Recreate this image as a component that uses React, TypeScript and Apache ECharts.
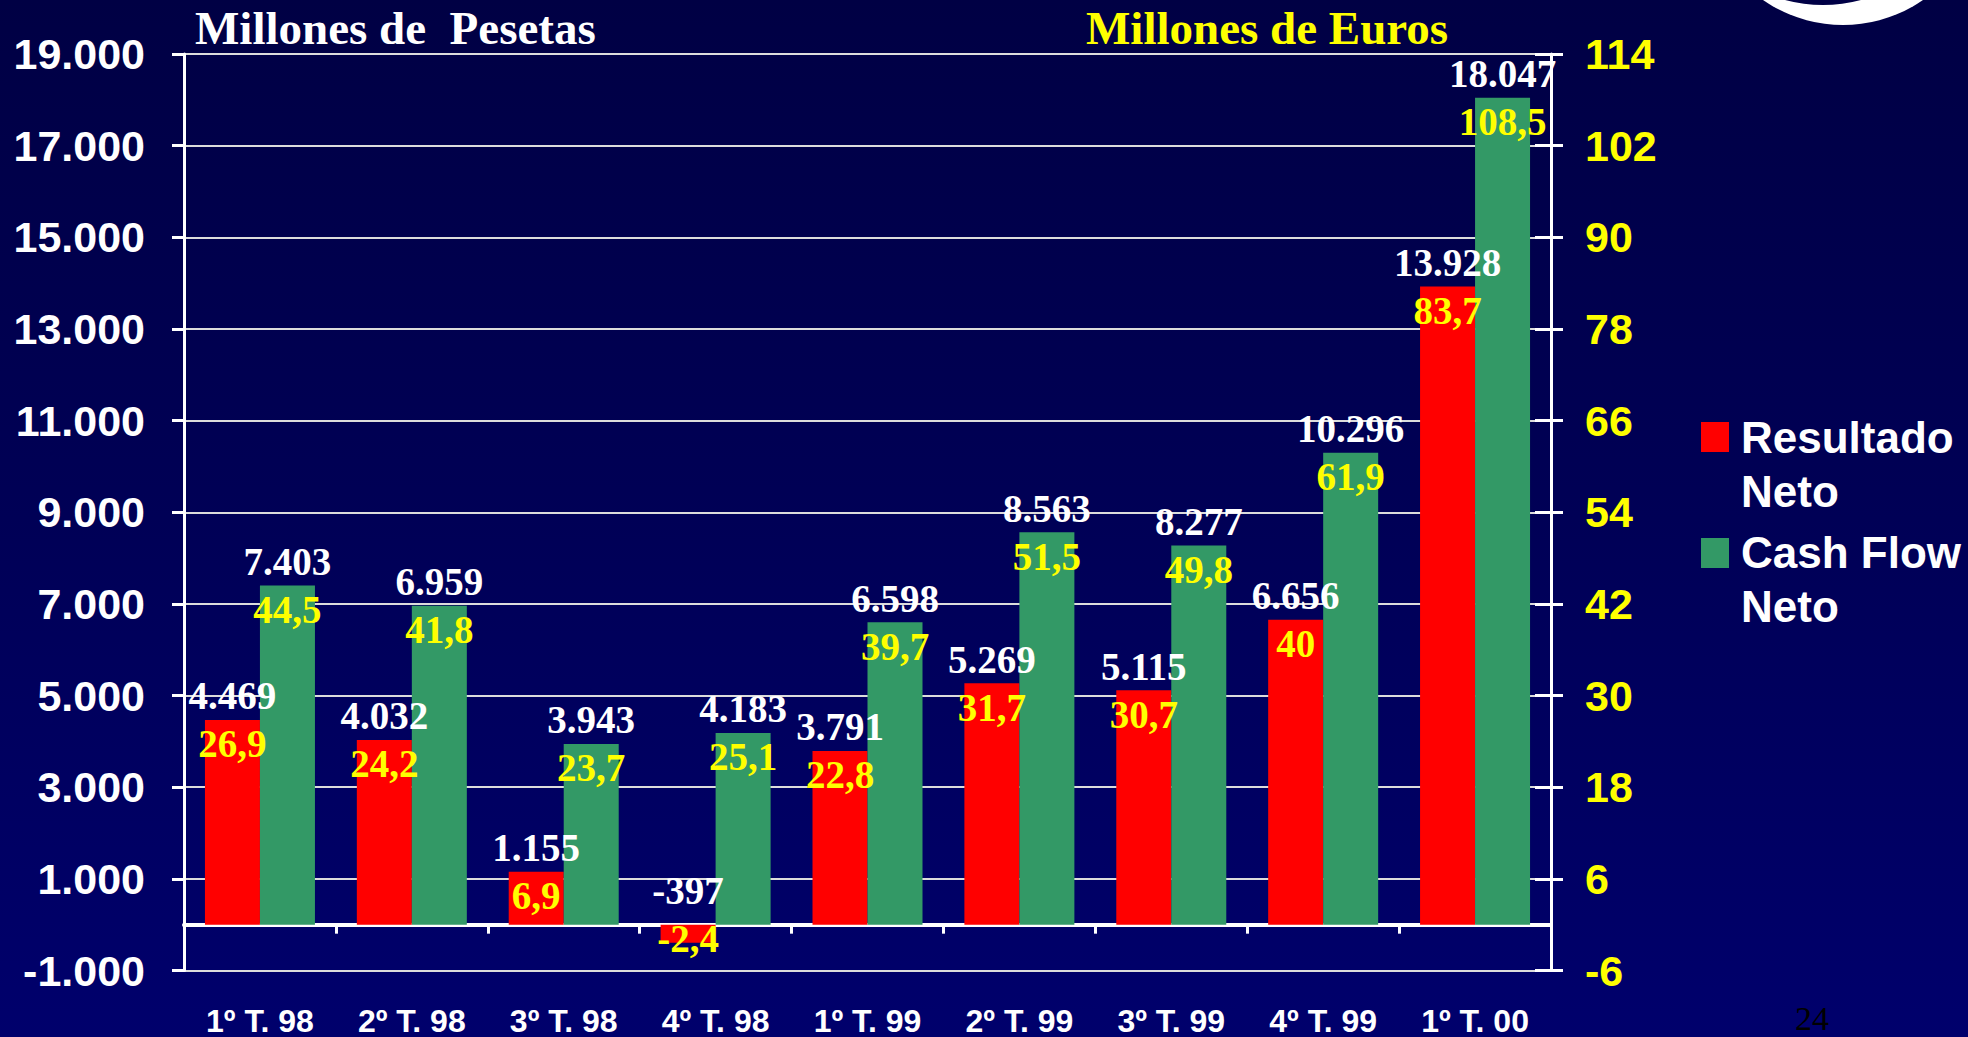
import React, { useEffect, useRef } from "react";
import * as echarts from "echarts";

const categories = ["1º T. 98", "2º T. 98", "3º T. 98", "4º T. 98", "1º T. 99", "2º T. 99", "3º T. 99", "4º T. 99", "1º T. 00"];
const resultadoPts = [4469, 4032, 1155, -397, 3791, 5269, 5115, 6656, 13928];
const resultadoEur = [26.9, 24.2, 6.9, -2.4, 22.8, 31.7, 30.7, 40, 83.7];
const cashFlowPts = [7403, 6959, 3943, 4183, 6598, 8563, 8277, 10296, 18047];
const cashFlowEur = [44.5, 41.8, 23.7, 25.1, 39.7, 51.5, 49.8, 61.9, 108.5];
const seriesNames = ["Resultado Neto", "Cash Flow Neto"];
const legendLines = ["Resultado\nNeto", "Cash Flow\nNeto"];
const ptsAxis = { min: -1000, max: 19000, interval: 2000 };
const eurAxis = { min: -6, max: 114, interval: 12 };
const leftTitle = "Millones de  Pesetas";
const rightTitle = "Millones de Euros";
const pageNumber = "24";

const RED = "#FF0000";
const GREEN = "#339966";
const YELLOW = "#FFFF00";
const WHITE = "#FFFFFF";
const SANS = "'Liberation Sans', Arial, sans-serif";
const SERIF = "'Liberation Serif', 'Times New Roman', serif";

function fmtPts(v: number): string {
  const s = String(Math.abs(Math.round(v))).replace(/\B(?=(\d{3})+(?!\d))/g, ".");
  return (v < 0 ? "-" : "") + s;
}
function fmtEur(v: number): string {
  return String(v).replace(".", ",");
}

function ghostSeries(pts: number[], eur: number[]) {
  return {
    type: "bar",
    xAxisIndex: 1,
    yAxisIndex: 0,
    barWidth: 55,
    barGap: "0%",
    silent: true,
    z: 5,
    itemStyle: { color: "transparent" },
    data: pts.map((v) => (v < 0 ? { value: v, label: { offset: [0, -58] } } : v)),
    label: {
      show: true,
      position: "insideTop",
      distance: 0,
      offset: [0, -48],
      textBorderWidth: 0,
      formatter: (p: any) => `{w|${fmtPts(pts[p.dataIndex])}}\n{y|${fmtEur(eur[p.dataIndex])}}`,
      rich: {
        w: { color: WHITE, fontFamily: SERIF, fontWeight: "bold", fontSize: 39, lineHeight: 48, textBorderWidth: 0 },
        y: { color: YELLOW, fontFamily: SERIF, fontWeight: "bold", fontSize: 39, lineHeight: 48, textBorderWidth: 0 },
      },
    },
  };
}

export default function App() {
  const ref = useRef<HTMLDivElement>(null);
  useEffect(() => {
    document.body.style.margin = "0";
    document.body.style.background = "#000050";
    const chart = echarts.init(ref.current!, undefined, { renderer: "svg" });
    const option: any = {
      animation: false,
      backgroundColor: "transparent",
      grid: { left: 184, right: 417, top: 54, bottom: 66.5, containLabel: false, outerBoundsMode: "none" },
      xAxis: [
        {
          type: "category",
          data: categories,
          axisLine: { show: true, onZero: true, lineStyle: { color: WHITE, width: 4 } },
          axisTick: { show: true, length: 9, lineStyle: { color: WHITE, width: 3 } },
          axisLabel: { margin: 34, lineHeight: 32, color: WHITE, fontSize: 32, fontWeight: "bold", fontFamily: SANS },
          splitLine: { show: false },
        },
        { type: "category", data: categories, show: false },
      ],
      yAxis: [
        {
          type: "value",
          position: "left",
          min: ptsAxis.min,
          max: ptsAxis.max,
          interval: ptsAxis.interval,
          axisLine: { show: true, lineStyle: { color: WHITE, width: 3 } },
          axisTick: { show: true, length: 12, lineStyle: { color: WHITE, width: 3 } },
          axisLabel: { margin: 39, color: WHITE, fontSize: 43, fontWeight: "bold", fontFamily: SANS, formatter: (v: number) => fmtPts(v) },
          splitLine: { show: true, lineStyle: { color: "#DCDCDC", width: 2 } },
        },
        {
          type: "value",
          position: "right",
          min: eurAxis.min,
          max: eurAxis.max,
          interval: eurAxis.interval,
          axisLine: { show: true, lineStyle: { color: WHITE, width: 3 } },
          axisTick: { show: true, length: 12, lineStyle: { color: WHITE, width: 3 } },
          axisLabel: { margin: 34, color: YELLOW, fontSize: 43, fontWeight: "bold", fontFamily: SANS, formatter: (v: number) => String(v) },
          splitLine: { show: false },
        },
        {
          type: "value",
          position: "right",
          min: eurAxis.min,
          max: eurAxis.max,
          interval: eurAxis.interval,
          axisLine: { show: false },
          axisTick: { show: true, inside: true, length: 16, lineStyle: { color: WHITE, width: 3 } },
          axisLabel: { show: false },
          splitLine: { show: false },
        },
      ],
      series: [
        {
          name: seriesNames[0],
          type: "bar",
          xAxisIndex: 0,
          yAxisIndex: 0,
          barWidth: 55,
          barGap: "0%",
          itemStyle: { color: RED },
          data: resultadoPts,
        },
        {
          name: seriesNames[1],
          type: "bar",
          xAxisIndex: 0,
          yAxisIndex: 0,
          barWidth: 55,
          barGap: "0%",
          itemStyle: { color: GREEN },
          data: cashFlowPts,
        },
        ghostSeries(resultadoPts, resultadoEur),
        ghostSeries(cashFlowPts, cashFlowEur),
      ],
      graphic: [
        { type: "circle", shape: { cx: 1843, cy: -115.5, r: 140.5 }, style: { fill: WHITE }, silent: true },
        { type: "circle", shape: { cx: 1823, cy: -142, r: 147 }, style: { fill: "#000045" }, silent: true },
        {
          type: "text",
          x: 195,
          y: 28,
          style: { text: leftTitle, fill: WHITE, font: `bold 47px ${SERIF}`, verticalAlign: "middle" },
        },
        {
          type: "text",
          x: 1086,
          y: 28,
          style: { text: rightTitle, fill: YELLOW, font: `bold 47px ${SERIF}`, verticalAlign: "middle" },
        },
        { type: "rect", shape: { x: 1701, y: 422, width: 28, height: 30 }, style: { fill: RED } },
        {
          type: "text",
          x: 1741,
          y: 410,
          style: { text: legendLines[0], fill: WHITE, font: `bold 44px ${SANS}`, lineHeight: 54, verticalAlign: "top" },
        },
        { type: "rect", shape: { x: 1701, y: 538, width: 28, height: 30 }, style: { fill: GREEN } },
        {
          type: "text",
          x: 1741,
          y: 525,
          style: { text: legendLines[1], fill: WHITE, font: `bold 44px ${SANS}`, lineHeight: 54, verticalAlign: "top" },
        },
        {
          type: "text",
          x: 1795,
          y: 1001,
          style: { text: pageNumber, fill: "#000000", font: `34px ${SERIF}`, lineHeight: 34, verticalAlign: "top" },
        },
      ],
    };
    chart.setOption(option);
    return () => chart.dispose();
  }, []);
  return (
    <div
      ref={ref}
      style={{
        width: 1968,
        height: 1037,
        background: "linear-gradient(to bottom, #000044 0%, #000056 50%, #00006C 100%)",
      }}
    />
  );
}
